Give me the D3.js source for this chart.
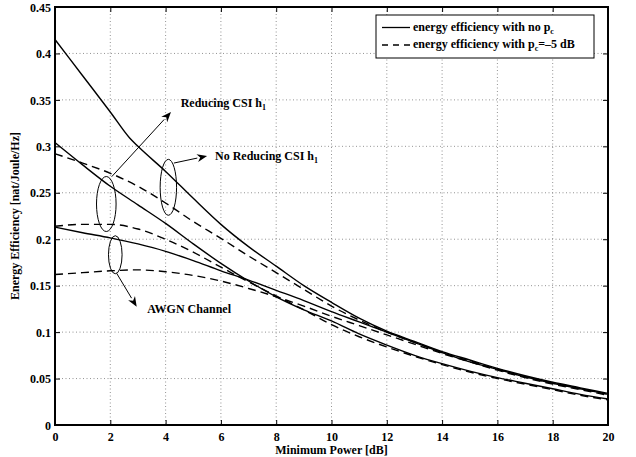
<!DOCTYPE html>
<html><head><meta charset="utf-8">
<script src="https://cdn.jsdelivr.net/npm/d3@7"></script>
<style>
body{margin:0;background:#fff}
svg{display:block}
text{font-family:"Liberation Serif","Times New Roman",serif;font-weight:bold;fill:#000}
</style>
</head><body>
<svg id="c" width="636" height="457"></svg>
<script>
// ---- data ----
const powerDb = [0,1,2,3,4,5,6,7,8,9,10,11,12,13,14,15,16,17,18,19,20];
const powerDbNoReduce = [0,1,2,2.7,3,4,5,6,7,8,9,10,11,12,13,14,15,16,17,18,19,20];
const effNoReduceNoPc = [0.415,0.376,0.337,0.309,0.300,0.273,0.244,0.216,0.192,0.171,0.150,0.132,0.115,0.101,0.090,0.079,0.070,0.061,0.053,0.046,0.040,0.034];
const effNoReducePc   = [0.292,0.282,0.271,0.257,0.239,0.219,0.201,0.182,0.164,0.146,0.128,0.113,0.100,0.089,0.078,0.069,0.060,0.052,0.045,0.039,0.033];
const effReduceNoPc   = [0.304,0.280,0.257,0.237,0.217,0.195,0.174,0.155,0.138,0.124,0.112,0.098,0.086,0.075,0.066,0.058,0.051,0.045,0.039,0.033,0.028];
const effReducePc     = [0.214,0.216,0.216,0.211,0.200,0.186,0.170,0.154,0.139,0.124,0.108,0.095,0.084,0.074,0.065,0.057,0.050,0.044,0.038,0.032,0.027];
const effAwgnNoPc     = [0.213,0.207,0.2015,0.195,0.187,0.177,0.166,0.156,0.145,0.134,0.122,0.111,0.100,0.089,0.078,0.068,0.060,0.052,0.045,0.039,0.033];
const effAwgnPc       = [0.162,0.164,0.166,0.167,0.165,0.161,0.155,0.147,0.138,0.128,0.117,0.107,0.097,0.087,0.077,0.068,0.059,0.051,0.044,0.038,0.032];
const xTicks = [0,2,4,6,8,10,12,14,16,18,20];
const yTicks = [0,0.05,0.1,0.15,0.2,0.25,0.3,0.35,0.4,0.45];
const yTickLabels = ["0","0.05","0.1","0.15","0.2","0.25","0.3","0.35","0.4","0.45"];
const legendLabels = [["energy efficiency with no p","c",""],["energy efficiency with p","c","=\u20135 dB"]];
// annotations in data units: ellipses [cx, cy, rx, ry]
const ellipses = [[1.855,0.2379,0.354,0.0296],[4.10,0.2559,0.297,0.0301],[2.18,0.1833,0.246,0.0205]];
// arrows [x1,y1,x2,y2]
const arrows = [[2.05,0.2673,4.195,0.3369],[4.30,0.282,5.50,0.2896],[2.23,0.1633,2.955,0.1273]];
const notes = [[4.546,0.3427,"Reducing CSI h","1"],[5.787,0.2853,"No Reducing CSI h","1"],[3.338,0.1209,"AWGN Channel",""]];

// ---- chart ----
const svg = d3.select("#c");
const L=55,R=608,T=7,B=425;
const x = d3.scaleLinear().domain([0,20]).range([L,R]);
const y = d3.scaleLinear().domain([0,0.45]).range([B,T]);

// grid
const g = svg.append("g");
g.selectAll(".gx").data(xTicks.slice(1,-1)).enter().append("line")
  .attr("x1",d=>x(d)).attr("x2",d=>x(d)).attr("y1",T).attr("y2",B)
  .attr("stroke","#777").attr("stroke-width",0.8).attr("stroke-dasharray","1,2.5");
g.selectAll(".gy").data(yTicks.slice(1,-1)).enter().append("line")
  .attr("y1",d=>y(d)).attr("y2",d=>y(d)).attr("x1",L).attr("x2",R)
  .attr("stroke","#777").attr("stroke-width",0.8).attr("stroke-dasharray","1,2.5");

// axes
const ax = svg.append("g").attr("transform",`translate(0,${B})`)
  .call(d3.axisBottom(x).tickValues(xTicks).tickSizeInner(-5).tickSizeOuter(0).tickPadding(7).tickFormat(d3.format("d")));
const ay = svg.append("g").attr("transform",`translate(${L},0)`)
  .call(d3.axisLeft(y).tickValues(yTicks).tickSizeInner(-5).tickSizeOuter(0).tickPadding(4).tickFormat((d,i)=>yTickLabels[i]));
const at = svg.append("g").attr("transform",`translate(0,${T})`)
  .call(d3.axisTop(x).tickValues(xTicks).tickSizeInner(-5).tickSizeOuter(0).tickFormat(""));
const ar = svg.append("g").attr("transform",`translate(${R},0)`)
  .call(d3.axisRight(y).tickValues(yTicks).tickSizeInner(-5).tickSizeOuter(0).tickFormat(""));
[ax,ay,at,ar].forEach(a=>{
  a.select(".domain").remove();
  a.selectAll("line").attr("stroke","#000").attr("stroke-width",1);
  a.selectAll("text").attr("font-size",12).attr("font-family",null).attr("fill","#000");
});
ax.selectAll("text").attr("dy","0.75em");
ay.selectAll("text").attr("dy","0.35em");

// curves
const series = [
  [powerDbNoReduce,effNoReduceNoPc,false],
  [powerDb,effNoReducePc,true],
  [powerDb,effReduceNoPc,false],
  [powerDb,effReducePc,true],
  [powerDb,effAwgnNoPc,false],
  [powerDb,effAwgnPc,true]
];
const line = d3.line().x(d=>x(d[0])).y(d=>y(d[1])).curve(d3.curveMonotoneX);
series.forEach(([xs,ys,dash])=>{
  svg.append("path").attr("d",line(xs.map((v,i)=>[v,ys[i]])))
    .attr("fill","none").attr("stroke","#000").attr("stroke-width",1.4)
    .attr("stroke-dasharray",dash?"8,5":null);
});

// box
svg.append("rect").attr("x",L).attr("y",T).attr("width",R-L).attr("height",B-T)
  .attr("fill","none").attr("stroke","#000").attr("stroke-width",2);

// annotations
svg.selectAll(".el").data(ellipses).enter().append("ellipse")
  .attr("cx",d=>x(d[0])).attr("cy",d=>y(d[1]))
  .attr("rx",d=>x(d[2])-x(0)).attr("ry",d=>y(0)-y(d[3]))
  .attr("fill","none").attr("stroke","#000").attr("stroke-width",1);
arrows.forEach(a=>{
  const x1=x(a[0]),y1=y(a[1]),x2=x(a[2]),y2=y(a[3]);
  const ang=Math.atan2(y2-y1,x2-x1), len=10, w=4;
  const bx=x2-len*Math.cos(ang), by=y2-len*Math.sin(ang);
  svg.append("line").attr("x1",x1).attr("y1",y1).attr("x2",bx).attr("y2",by)
    .attr("stroke","#000").attr("stroke-width",1);
  const px=-Math.sin(ang), py=Math.cos(ang);
  const ix=x2-0.7*len*Math.cos(ang), iy=y2-0.7*len*Math.sin(ang);
  svg.append("path").attr("d",`M${x2},${y2}L${bx+w*px},${by+w*py}L${ix},${iy}L${bx-w*px},${by-w*py}Z`)
    .attr("fill","#000");
});
notes.forEach(n=>{
  const t=svg.append("text").attr("x",x(n[0])).attr("y",y(n[1])).attr("font-size",12);
  t.append("tspan").text(n[2]);
  if(n[3]) t.append("tspan").attr("font-size",8).attr("dy",3).text(n[3]);
});

// legend
const lg = svg.append("g");
lg.append("rect").attr("x",376).attr("y",15).attr("width",218).attr("height",43)
  .attr("fill","#fff").attr("stroke","#000").attr("stroke-width",1);
legendLabels.forEach((lb,i)=>{
  const yy = 27.5 + i*17.5;
  lg.append("line").attr("x1",382).attr("x2",410).attr("y1",yy).attr("y2",yy)
    .attr("stroke","#000").attr("stroke-width",1.3).attr("stroke-dasharray",i?"6,5":null);
  const t = lg.append("text").attr("x",413).attr("y",yy+3).attr("font-size",12);
  t.append("tspan").text(lb[0]);
  t.append("tspan").attr("font-size",8).attr("dy",3).text(lb[1]);
  if(lb[2]) t.append("tspan").attr("dy",-3).text(lb[2]);
});

// axis labels
svg.append("text").attr("x",(L+R)/2).attr("y",454).attr("text-anchor","middle").attr("font-size",12).text("Minimum Power [dB]");
svg.append("text").attr("transform",`translate(19,${(T+B)/2}) rotate(-90)`).attr("text-anchor","middle").attr("font-size",12).text("Energy Efficiency [nat/Joule/Hz]");
</script>
</body></html>
